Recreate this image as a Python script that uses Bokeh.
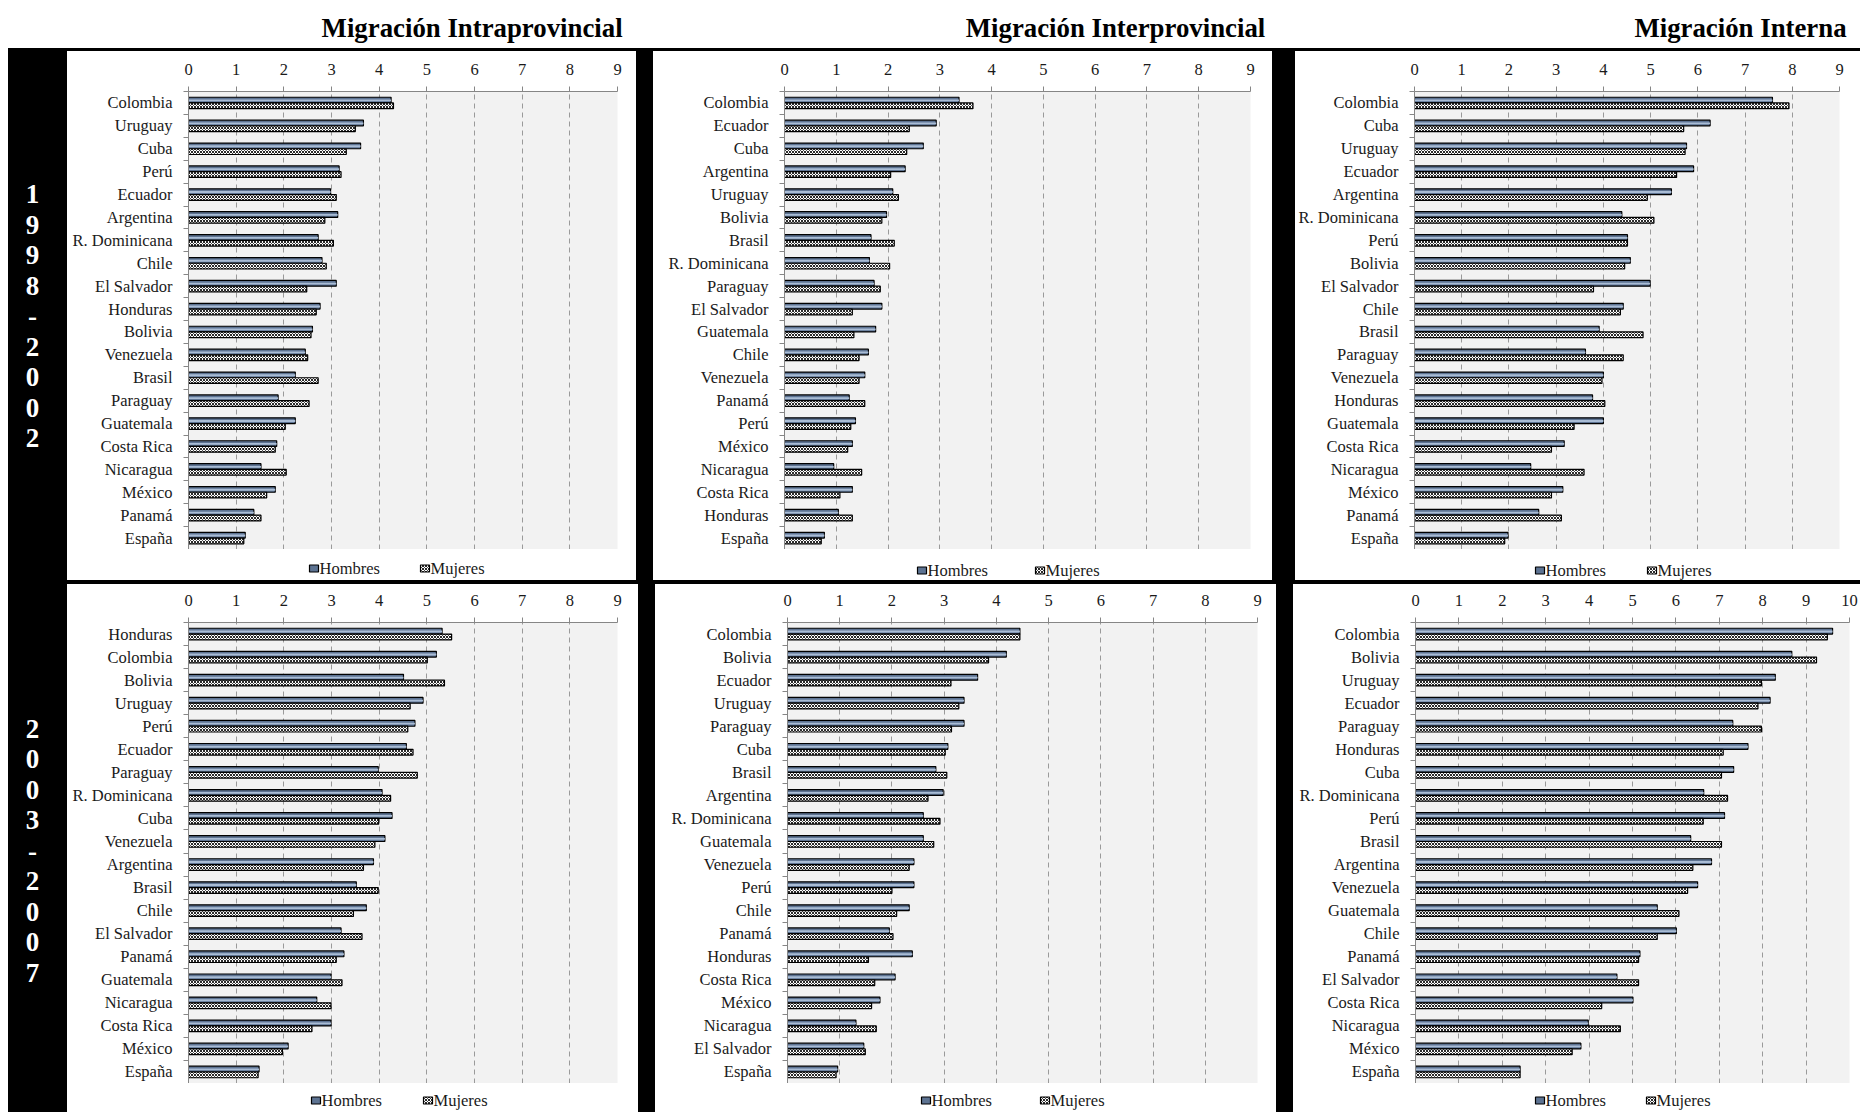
from bokeh.plotting import figure
from bokeh.models import (ColumnDataSource, Range1d, FixedTicker, Spacer)
from bokeh.layouts import row, column
from bokeh.transform import dodge
from bokeh.core.properties import value
from bokeh.embed import file_html
from bokeh.resources import INLINE

# ---------------- data ----------------
titles = ["Migración Intraprovincial", "Migración Interprovincial", "Migración Interna"]
periods = ["1998-2002", "2003-2007"]
series_names = ["Hombres", "Mujeres"]

intra_9802_countries = ["Colombia", "Uruguay", "Cuba", "Perú", "Ecuador", "Argentina", "R. Dominicana",
                        "Chile", "El Salvador", "Honduras", "Bolivia", "Venezuela", "Brasil", "Paraguay",
                        "Guatemala", "Costa Rica", "Nicaragua", "México", "Panamá", "España"]
intra_9802_h = [4.25, 3.67, 3.61, 3.16, 2.98, 3.13, 2.72, 2.80, 3.10, 2.76, 2.60, 2.45, 2.24, 1.88,
                2.24, 1.85, 1.52, 1.82, 1.37, 1.19]
intra_9802_m = [4.30, 3.50, 3.31, 3.20, 3.10, 2.86, 3.04, 2.89, 2.48, 2.68, 2.57, 2.50, 2.72, 2.53,
                2.03, 1.82, 2.05, 1.64, 1.52, 1.16]

inter_9802_countries = ["Colombia", "Ecuador", "Cuba", "Argentina", "Uruguay", "Bolivia", "Brasil",
                        "R. Dominicana", "Paraguay", "El Salvador", "Guatemala", "Chile", "Venezuela",
                        "Panamá", "Perú", "México", "Nicaragua", "Costa Rica", "Honduras", "España"]
inter_9802_h = [3.37, 2.93, 2.68, 2.33, 2.09, 1.97, 1.67, 1.64, 1.73, 1.88, 1.76, 1.62, 1.55, 1.25,
                1.37, 1.31, 0.95, 1.31, 1.04, 0.77]
inter_9802_m = [3.64, 2.41, 2.36, 2.05, 2.20, 1.88, 2.12, 2.03, 1.85, 1.31, 1.34, 1.44, 1.44, 1.55,
                1.28, 1.22, 1.49, 1.07, 1.31, 0.71]

interna_9802_countries = ["Colombia", "Cuba", "Uruguay", "Ecuador", "Argentina", "R. Dominicana", "Perú",
                          "Bolivia", "El Salvador", "Chile", "Brasil", "Paraguay", "Venezuela", "Honduras",
                          "Guatemala", "Costa Rica", "Nicaragua", "México", "Panamá", "España"]
interna_9802_h = [7.58, 6.26, 5.76, 5.91, 5.44, 4.39, 4.51, 4.57, 4.99, 4.42, 3.91, 3.62, 4.00, 3.77,
                  4.00, 3.17, 2.46, 3.14, 2.63, 1.98]
interna_9802_m = [7.93, 5.70, 5.73, 5.55, 4.93, 5.07, 4.51, 4.45, 3.79, 4.36, 4.84, 4.42, 3.97, 4.03,
                  3.38, 2.90, 3.59, 2.90, 3.11, 1.91]

intra_0307_countries = ["Honduras", "Colombia", "Bolivia", "Uruguay", "Perú", "Ecuador", "Paraguay",
                        "R. Dominicana", "Cuba", "Venezuela", "Argentina", "Brasil", "Chile", "El Salvador",
                        "Panamá", "Guatemala", "Nicaragua", "Costa Rica", "México", "España"]
intra_0307_h = [5.32, 5.20, 4.51, 4.92, 4.75, 4.57, 3.98, 4.06, 4.27, 4.12, 3.88, 3.52, 3.73, 3.20,
                3.26, 2.99, 2.69, 2.99, 2.09, 1.48]
intra_0307_m = [5.52, 5.01, 5.37, 4.65, 4.60, 4.71, 4.80, 4.24, 3.99, 3.91, 3.67, 3.98, 3.46, 3.64,
                3.10, 3.22, 2.99, 2.59, 1.97, 1.46]

inter_0307_countries = ["Colombia", "Bolivia", "Ecuador", "Uruguay", "Paraguay", "Cuba", "Brasil",
                        "Argentina", "R. Dominicana", "Guatemala", "Venezuela", "Perú", "Chile", "Panamá",
                        "Honduras", "Costa Rica", "México", "Nicaragua", "El Salvador", "España"]
inter_0307_h = [4.45, 4.19, 3.64, 3.38, 3.38, 3.07, 2.84, 2.98, 2.60, 2.60, 2.42, 2.42, 2.33, 1.95,
                2.39, 2.06, 1.77, 1.31, 1.46, 0.96]
inter_0307_m = [4.45, 3.85, 3.13, 3.28, 3.14, 3.02, 3.05, 2.69, 2.92, 2.80, 2.33, 2.00, 2.09, 2.02,
                1.55, 1.67, 1.61, 1.70, 1.49, 0.93]

interna_0307_countries = ["Colombia", "Bolivia", "Uruguay", "Ecuador", "Paraguay", "Honduras", "Cuba",
                          "R. Dominicana", "Perú", "Brasil", "Argentina", "Venezuela", "Guatemala", "Chile",
                          "Panamá", "El Salvador", "Costa Rica", "Nicaragua", "México", "España"]
interna_0307_h = [9.61, 8.67, 8.29, 8.17, 7.31, 7.66, 7.33, 6.64, 7.12, 6.34, 6.82, 6.50, 5.57, 6.01,
                  5.17, 4.64, 5.01, 3.98, 3.81, 2.41]
interna_0307_m = [9.49, 9.24, 7.97, 7.89, 7.97, 7.09, 7.05, 7.19, 6.63, 7.05, 6.39, 6.27, 6.07, 5.57,
                  5.14, 5.14, 4.29, 4.72, 3.61, 2.41]

x_max_top = 9
x_max_bottom = [9, 9, 10]

# ---------------- styling ----------------
FONT = "Liberation Serif"
AX = "#868686"
H_STYLE = dict(fill_color="#5d7392", line_color="black", line_width=1.2)
M_STYLE = dict(fill_color="white", hatch_pattern="x", hatch_color="#2a2a2a", hatch_scale=3,
               hatch_weight=1, line_color="black", line_width=1.2)
H_LIGHT = "#a9bcd5"


def panel(countries, h, m, xmax, width, height, left, right, top, strip_h, leg_x, leg_gap, leg_dy):
    n = len(countries)
    ys = [n - 1 - i for i in range(n)]
    src = ColumnDataSource(dict(y=ys, country=countries, h=h, m=m))
    p = figure(width=width, height=height - strip_h, x_range=Range1d(0, xmax), y_range=Range1d(-0.5, n - 0.5),
               x_axis_location="above", toolbar_location=None, output_backend="svg",
               min_border_left=left, min_border_right=right, min_border_top=top, min_border_bottom=0,
               background_fill_color="#f2f2f2", border_fill_color="white", outline_line_color=None)
    p.xgrid.ticker = FixedTicker(ticks=list(range(1, xmax + 1)))
    p.xgrid.grid_line_color = "#9a9a9a"
    p.xgrid.grid_line_dash = "5 4"
    p.ygrid.visible = False

    p.hbar(y=dodge("y", 0.125), left=0, right="h", height=0.25, source=src, **H_STYLE)
    p.hbar(y=dodge("y", 0.11), left=0, right="h", height=0.08, source=src,
           fill_color=H_LIGHT, line_color=None)
    p.hbar(y=dodge("y", -0.125), left=0, right="m", height=0.25, source=src, **M_STYLE)

    xa = p.xaxis[0]
    xa.ticker = FixedTicker(ticks=list(range(0, xmax + 1)))
    xa.axis_line_color = AX
    xa.major_tick_line_color = AX
    xa.major_tick_out = 5
    xa.major_tick_in = 0
    xa.minor_tick_line_color = None
    xa.major_label_standoff = 12
    xa.major_label_text_font = FONT
    xa.major_label_text_font_size = "16.5px"
    xa.major_label_text_color = "#1a1a1a"

    ya = p.yaxis[0]
    ya.ticker = FixedTicker(ticks=ys, minor_ticks=[k - 0.5 for k in range(n + 1)])
    ya.major_label_overrides = {ys[i]: countries[i] for i in range(n)}
    ya.axis_line_color = AX
    ya.major_tick_line_color = None
    ya.major_tick_out = 0
    ya.major_tick_in = 0
    ya.minor_tick_line_color = AX
    ya.minor_tick_out = 5
    ya.minor_tick_in = 0
    ya.major_label_standoff = 11
    ya.major_label_text_font = FONT
    ya.major_label_text_font_size = "16.5px"
    ya.major_label_text_color = "#1a1a1a"

    # legend strip under the plot (pixel coordinates inside its frame)
    fw = width - left - right
    s = figure(width=width, height=strip_h, x_range=Range1d(0, fw), y_range=Range1d(0, strip_h),
               toolbar_location=None, output_backend="svg",
               min_border_left=left, min_border_right=right, min_border_top=0, min_border_bottom=0,
               x_axis_type=None, y_axis_type=None, outline_line_color=None,
               background_fill_color="white", border_fill_color="white")
    s.grid.visible = False
    ly = strip_h - leg_dy
    xs = [leg_x, leg_x + leg_gap]
    s.rect(x=[xs[0] + 4.5], y=[ly], width=9, height=7, **H_STYLE)
    s.rect(x=[xs[1] + 4.5], y=[ly], width=9, height=7, **M_STYLE)
    s.text(x=[v + 10 for v in xs], y=[ly, ly], text=series_names, text_font=value(FONT),
           text_font_size=value("16.5px"), text_color="#1a1a1a", text_align="left", text_baseline="middle")
    return column(p, s, styles={"background-color": "white"})


# top row panels (height 529): frame y 91..549 on the page, legend strip 549..580
pA = panel(intra_9802_countries, intra_9802_h, intra_9802_m, x_max_top, 569, 529, 121, 19, 40, 31, 121, 111, 19)
pB = panel(inter_9802_countries, inter_9802_h, inter_9802_m, x_max_top, 619, 529, 131, 22, 40, 31, 133, 118, 21)
pC = panel(interna_9802_countries, interna_9802_h, interna_9802_m, x_max_top, 565, 529, 119, 21, 40, 31, 121, 112, 21)
# bottom row panels (height 528): frame y 622..1083 on the page, legend strip 1083..1112
pD = panel(intra_0307_countries, intra_0307_h, intra_0307_m, x_max_bottom[0], 571, 528, 121, 21, 38, 29, 123, 112, 17)
pE = panel(inter_0307_countries, inter_0307_h, inter_0307_m, x_max_bottom[1], 621, 528, 132, 19, 38, 29, 134, 119, 17)
pF = panel(interna_0307_countries, interna_0307_h, interna_0307_m, x_max_bottom[2], 567, 528, 122, 11, 38, 29, 120, 111, 17)

# title strip
TW, TH = 1860, 48
title_fig = figure(width=TW, height=TH, x_range=Range1d(0, TW), y_range=Range1d(0, TH),
                   toolbar_location=None, output_backend="svg", min_border=0,
                   x_axis_type=None, y_axis_type=None, outline_line_color=None,
                   background_fill_color="white", border_fill_color="white")
title_fig.grid.visible = False
title_fig.text(x=[471.6, 1115, 1740], y=[21, 21, 21], text=titles,
               text_font=value(FONT), text_font_style="bold", text_font_size=value("26.8px"),
               text_align="center", text_baseline="alphabetic", text_color="black")

# left black band with vertical period labels
BW, BH = 59, 1064
band = figure(width=BW, height=BH, x_range=Range1d(0, BW), y_range=Range1d(0, BH),
              toolbar_location=None, output_backend="svg", min_border=0,
              x_axis_type=None, y_axis_type=None, outline_line_color=None,
              background_fill_color="black", border_fill_color="black")
band.grid.visible = False
chars, cx, cy = [], [], []
for period, center in zip(periods, [267.5, 802]):
    for i, ch in enumerate(period):
        chars.append(ch)
        cx.append(24)
        cy.append(BH - (center + (i - 4) * 30.5))
band.text(x=cx, y=cy, text=chars, text_font=value(FONT), text_font_style="bold",
          text_font_size=value("27px"), text_align="center", text_baseline="middle", text_color="white")

top_row = row(pA, Spacer(width=17, height=529), pB, Spacer(width=23, height=529), pC)
bot_row = row(pD, Spacer(width=17, height=528), pE, Spacer(width=17, height=528), pF)
right_block = column(Spacer(width=1793, height=3), top_row, Spacer(width=1793, height=4), bot_row)
black_block = row(band, right_block, styles={"background-color": "black"})
page = column(title_fig, row(Spacer(width=8, height=BH), black_block))

open("out.html", "w").write(file_html(page, INLINE))
